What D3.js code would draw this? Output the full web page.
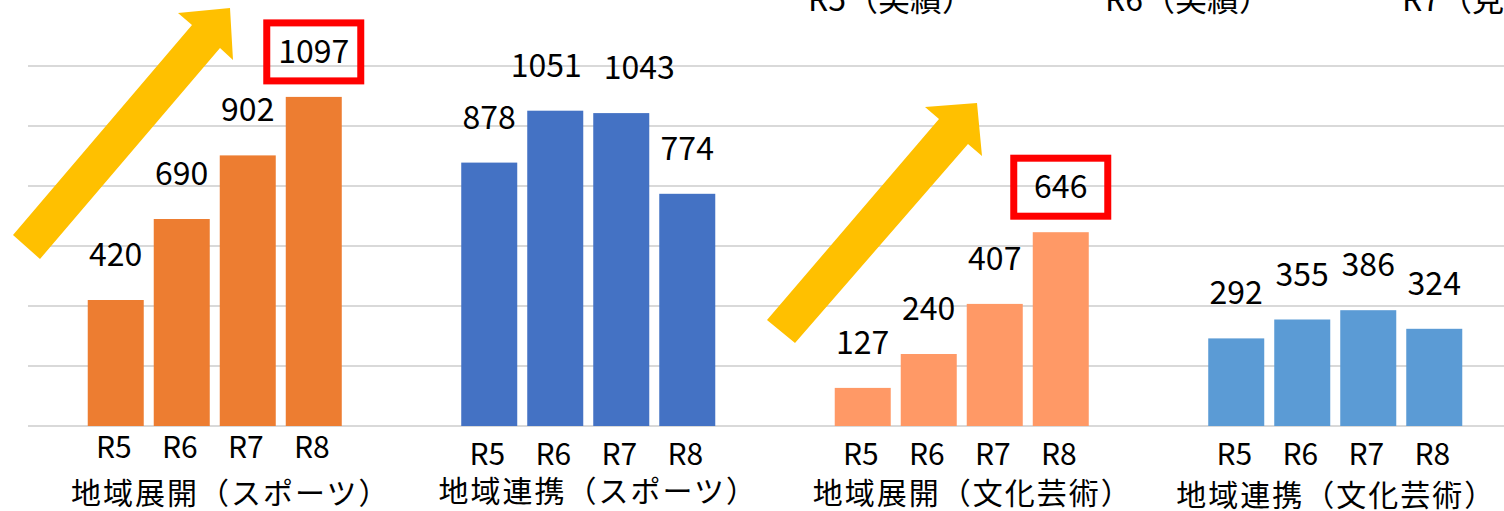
<!DOCTYPE html>
<html>
<head>
<meta charset="utf-8">
<script src="https://cdn.jsdelivr.net/npm/d3@7"></script>
<style>
  html, body { margin: 0; padding: 0; background: #fff; overflow: hidden; }
  svg { display: block; font-family: "Noto Sans CJK JP", "Noto Sans", sans-serif; }
</style>
</head>
<body>
<div id="chart"></div>
<script>
const categories = ['地域展開（スポーツ）', '地域連携（スポーツ）', '地域展開（文化芸術）', '地域連携（文化芸術）']
const years = ['R5', 'R6', 'R7', 'R8']
const sportsExpansion = [420, 690, 902, 1097]
const sportsCooperation = [878, 1051, 1043, 774]
const cultureExpansion = [127, 240, 407, 646]
const cultureCooperation = [292, 355, 386, 324]
const yTicks = [0, 200, 400, 600, 800, 1000, 1200]
const legendLabels = ['R5（実績）', 'R6（実績）', 'R7（見込）']
const colors = ['#ED7D31', '#4472C4', '#FF9966', '#5B9BD5']
const highlighted = [[0, 3], [2, 3]] // [group, year] with red box

const series = [sportsExpansion, sportsCooperation, cultureExpansion, cultureCooperation]
const width = 1504, height = 511

// small per-group label offsets (the source has uneven label placement)
const yearLabelY = [458, 465, 465, 465]
const catLabelY = [504, 502, 504, 506]
const catLabelDx = [16, 10, 11, 1]
// labels that were pushed apart so they don't collide
const labelNudge = { '1-1': -9, '1-2': 18 }

const svg = d3.select('#chart').append('svg').attr('width', width).attr('height', height)

const y = d3.scaleLinear().domain([0, 1200]).range([426, 66])
const x0 = d3.scaleBand().domain(categories).range([28, 28 + 4 * 373.5]).padding(0)
const x1 = d3.scaleBand().domain(years).range([0, x0.bandwidth()])
  .paddingInner(10 / 66).paddingOuter(0.905)

// gridlines
svg.append('g').selectAll('line').data(yTicks).join('line')
  .attr('x1', 28).attr('x2', width)
  .attr('y1', d => y(d)).attr('y2', d => y(d))
  .attr('stroke', '#D9D9D9').attr('stroke-width', 2)

// legend (cut off by the top edge in the source)
svg.append('g').selectAll('text').data(legendLabels).join('text')
  .attr('x', (d, i) => 808 + i * 297).attr('y', 11)
  .attr('font-size', 32).attr('fill', '#000')
  .text(d => d)

// arrows
const arrows = [
  [[13, 235], [192, 25], [178, 13], [230, 8], [233, 60], [220, 48], [40, 259]],
  [[767, 320], [939, 119], [925, 107], [977, 103], [982, 156], [968, 144], [795, 343]]
]
svg.append('g').selectAll('polygon').data(arrows).join('polygon')
  .attr('points', d => d.map(p => p.join(',')).join(' '))
  .attr('fill', '#FFC000')

const groups = svg.append('g').selectAll('g').data(categories).join('g')
  .attr('transform', d => `translate(${x0(d)},0)`)

groups.each(function (cat, gi) {
  const g = d3.select(this)
  const vals = series[gi].map((v, i) => ({ year: years[i], value: v, key: `${gi}-${i}` }))

  g.selectAll('rect').data(vals).join('rect')
    .attr('x', d => x1(d.year))
    .attr('width', x1.bandwidth())
    .attr('y', d => y(d.value))
    .attr('height', d => y(0) - y(d.value))
    .attr('fill', colors[gi])

  g.selectAll('text.val').data(vals).join('text')
    .attr('class', 'val')
    .attr('x', d => x1(d.year) + x1.bandwidth() / 2 + (labelNudge[d.key] || 0))
    .attr('y', d => y(d.value) - 34)
    .attr('text-anchor', 'middle')
    .attr('font-size', 32).attr('fill', '#000')
    .text(d => d.value)

  g.selectAll('text.yr').data(years).join('text')
    .attr('class', 'yr')
    .attr('x', d => x1(d) + x1.bandwidth() / 2 - 2)
    .attr('y', yearLabelY[gi])
    .attr('text-anchor', 'middle')
    .attr('font-size', 30).attr('fill', '#000')
    .text(d => d)

  g.append('text')
    .attr('x', x0.bandwidth() / 2 + catLabelDx[gi])
    .attr('y', catLabelY[gi])
    .attr('text-anchor', 'middle')
    .attr('font-size', 30).attr('letter-spacing', 2).attr('fill', '#000')
    .text(cat)
})

// red highlight boxes around selected value labels
highlighted.forEach(([gi, yi]) => {
  const cx = x0(categories[gi]) + x1(years[yi]) + x1.bandwidth() / 2
  const top = y(series[gi][yi])
  svg.append('rect')
    .attr('x', cx - 47).attr('y', top - 74)
    .attr('width', 94).attr('height', 58)
    .attr('fill', 'none').attr('stroke', '#FF0000').attr('stroke-width', 7)
})
</script>
</body>
</html>
